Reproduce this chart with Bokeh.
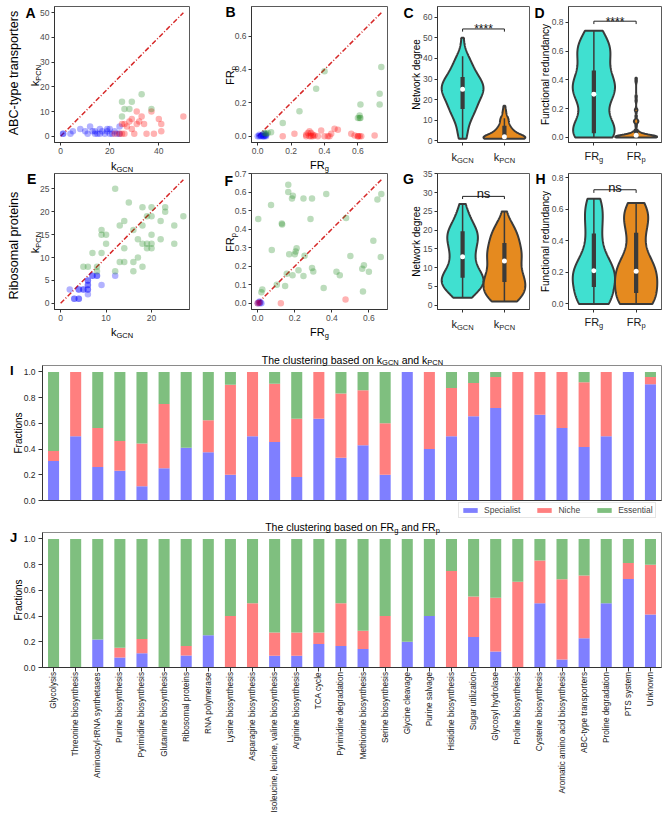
import numpy as np
from math import pi
from bokeh.plotting import figure
from bokeh.models import (Range1d, FixedTicker, PrintfTickFormatter, Label,
                          Legend, LegendItem, GridBox)
from bokeh.layouts import column, row
from bokeh.embed import file_html
from bokeh.resources import INLINE

FONT = "Liberation Sans"

# ---------------- data ----------------
# Panel A: ABC-type transporters, network degree (k_GCN, k_PCN)
abc_k_blue_gcn = [1, 1, 4, 5, 8, 10, 11, 12, 13, 14, 14, 15, 16, 16, 17, 18, 19, 19, 20, 20, 21, 22, 23, 24, 24]
abc_k_blue_pcn = [1, 1, 1, 2, 3, 2, 1, 4, 2, 1, 2, 1, 3, 1, 2, 1, 3, 2, 1, 3, 1, 2, 1, 1, 4]
abc_k_red_gcn = [22, 24, 25, 25, 26, 26, 27, 28, 29, 29, 30, 31, 31, 32, 33, 34, 35, 37, 38, 40, 41, 41, 50]
abc_k_red_pcn = [1, 1, 1, 5, 1, 5, 4, 6, 7, 3, 1, 5, 10, 6, 8, 5, 1, 10, 1, 7, 5, 2, 8]
abc_k_green_gcn = [25, 25, 26, 28, 29, 33, 37]
abc_k_green_pcn = [8, 14, 11, 11, 14, 17, 11]

# Panel B: ABC-type transporters, functional redundancy (FR_g, FR_p)
abc_fr_blue_g = [0.0, 0.01, 0.01, 0.02, 0.02, 0.03, 0.03, 0.04, 0.04, 0.05, 0.05, 0.045, 0.035]
abc_fr_blue_p = [0.0, 0.0, 0.01, 0.0, 0.005, 0.0, 0.01, 0.0, 0.015, 0.0, 0.01, 0.005, 0.0]
abc_fr_red_g = [0.15, 0.22, 0.29, 0.29, 0.30, 0.31, 0.31, 0.32, 0.32, 0.33, 0.33, 0.34, 0.36, 0.38,
                0.40, 0.42, 0.43, 0.44, 0.46, 0.48, 0.56, 0.58, 0.60, 0.60, 0.61, 0.62, 0.70]
abc_fr_red_p = [0.0, 0.015, 0.0, 0.01, 0.02, 0.03, 0.0, 0.0, 0.02, 0.0, 0.01, 0.005, 0.0, 0.035,
                0.0, 0.0, 0.0, 0.015, 0.045, 0.04, 0.015, 0.005, 0.0, 0.0, 0.0, 0.0, 0.005]
abc_fr_green_g = [0.04, 0.05, 0.06, 0.08, 0.15, 0.25, 0.35, 0.40, 0.60, 0.61, 0.61, 0.615, 0.615,
                  0.73, 0.73, 0.74]
abc_fr_green_p = [0.02, 0.015, 0.02, 0.025, 0.08, 0.15, 0.285, 0.39, 0.11, 0.125, 0.11, 0.11, 0.19,
                  0.19, 0.255, 0.415]

# Panel E: Ribosomal proteins, network degree
rib_k_blue_gcn = [2, 3, 3, 4, 4, 4, 5, 5, 6, 6, 6, 6, 6, 6, 7, 7, 8, 8, 9, 12, 4, 6]
rib_k_blue_pcn = [3, 1, 1, 1, 1, 3, 3, 3, 2, 4, 4, 5, 5, 3, 6, 6, 6, 6, 4, 6, 3, 3]
rib_k_green_gcn = [12, 15, 13, 14, 9, 9, 10, 10, 7, 9, 14, 16, 18, 20, 19, 20, 23, 22, 18, 17,
                   19, 20, 20, 19, 18, 20, 22, 13, 14, 16, 17, 16, 18, 12, 5, 6, 8, 8, 25, 27, 25, 23]
rib_k_green_pcn = [25, 22, 17, 18, 16, 15, 15, 13, 11, 11, 12, 16, 21, 21, 19, 19, 20, 18, 17, 14,
                   13, 13, 12, 12, 13, 15, 14, 9, 9, 9, 10, 7, 8, 7, 8, 8, 8, 7, 17, 19, 13, 21]

# Panel F: Ribosomal proteins, functional redundancy
rib_fr_blue_g = [0.0, 0.005, 0.01, 0.01, 0.015, 0.02]
rib_fr_blue_p = [0.0, 0.005, 0.0, 0.01, 0.005, 0.0]
rib_fr_red_g = [0.0, 0.01, 0.125, 0.474]
rib_fr_red_p = [0.0, 0.005, 0.0, 0.02]
rib_fr_green_g = [0.165, 0.165, 0.185, 0.19, 0.247, 0.293, 0.37, 0.072, 0.003, 0.13, 0.132, 0.285,
                  0.076, 0.21, 0.205, 0.20, 0.17, 0.253, 0.103, 0.148, 0.157, 0.188, 0.22, 0.247,
                  0.293, 0.30, 0.356, 0.02, 0.025, 0.667, 0.646, 0.477, 0.624, 0.50, 0.664, 0.573,
                  0.564, 0.60, 0.425, 0.443, 0.568]
rib_fr_green_p = [0.64, 0.60, 0.565, 0.58, 0.565, 0.565, 0.59, 0.53, 0.455, 0.43, 0.425, 0.455,
                  0.287, 0.297, 0.28, 0.265, 0.265, 0.257, 0.10, 0.093, 0.16, 0.151, 0.178, 0.147,
                  0.19, 0.172, 0.082, 0.06, 0.075, 0.59, 0.56, 0.46, 0.337, 0.255, 0.25, 0.206,
                  0.187, 0.17, 0.17, 0.151, 0.064]

# Box statistics of the violins: (lower whisker, Q1, median, Q3, upper whisker)
box_abc_k = [(1, 15.5, 25, 31, 41), (1, 1.5, 2, 7.3, 11)]
box_abc_fr = [(0.0, 0.03, 0.30, 0.465, 0.74), (0.0, 0.0, 0.015, 0.06, 0.085)]
box_rib_k = [(2, 7.3, 12.9, 19.7, 27), (1, 6.2, 11.8, 16.6, 25)]
box_rib_fr = [(0.0, 0.108, 0.211, 0.446, 0.67), (0.0, 0.07, 0.207, 0.452, 0.64)]
sig_abc = "****"
sig_rib = "ns"

# Panels I and J: fractions per functional category
categories = ["Glycolysis", "Threonine biosynthesis", "Aminoacyl-tRNA synthetases",
              "Purine biosynthesis", "Pyrimidine biosynthesis", "Glutamine biosynthesis",
              "Ribosomal proteins", "RNA polymerase", "Lysine biosynthesis",
              "Asparagine biosynthesis", "Isoleucine, leucine, valine biosynthesis",
              "Arginine biosynthesis", "TCA cycle", "Pyrimidine degradation",
              "Methionine biosynthesis", "Serine biosynthesis", "Glycine cleavage",
              "Purine salvage", "Histidine biosynthesis", "Sugar utilization",
              "Glycosyl hydrolase", "Proline biosynthesis", "Cysteine biosynthesis",
              "Aromatic amino acid biosynthesis", "ABC-type transporters",
              "Proline degradation", "PTS system", "Unknown"]
k_specialist = [0.308, 0.500, 0.260, 0.231, 0.111, 0.250, 0.410, 0.375, 0.200, 0.500, 0.455, 0.182,
                0.636, 0.333, 0.429, 0.200, 1.000, 0.400, 0.500, 0.655, 0.720, 0.000, 0.667, 0.563,
                0.416, 0.500, 1.000, 0.904]
k_niche = [0.077, 0.500, 0.304, 0.231, 0.333, 0.500, 0.000, 0.250, 0.700, 0.500, 0.454, 0.454,
           0.364, 0.500, 0.428, 0.400, 0.000, 0.600, 0.375, 0.259, 0.240, 1.000, 0.333, 0.437,
           0.504, 0.500, 0.000, 0.056]
fr_specialist = [0.000, 0.000, 0.217, 0.077, 0.111, 0.000, 0.093, 0.250, 0.000, 0.000, 0.091, 0.091,
                 0.182, 0.167, 0.143, 0.000, 0.200, 0.400, 0.000, 0.237, 0.124, 0.000, 0.500, 0.062,
                 0.227, 0.500, 0.688, 0.413]
fr_niche = [0.000, 0.000, 0.000, 0.077, 0.111, 0.000, 0.074, 0.000, 0.400, 0.500, 0.182, 0.182,
            0.091, 0.333, 0.143, 0.400, 0.000, 0.000, 0.750, 0.315, 0.418, 0.667, 0.333, 0.625,
            0.489, 0.000, 0.125, 0.387]
legend_labels = ["Specialist", "Niche", "Essential"]

# ---------------- styling ----------------
PT_BLUE, PT_RED, PT_GREEN = "#0000ff", "#ff0000", "#228b22"
BAR_BLUE, BAR_RED, BAR_GREEN = "#7f7fff", "#ff7f7f", "#7fbf7f"
BAR_COLORS = (BAR_BLUE, BAR_RED, BAR_GREEN)
TURQ, ORANGE = "#40e0d0", "#e58a1f"
DARK = "#3a3a3a"
PAGE_W, PAGE_H = 662, 812

_up = dict(zip("ABCDEFGHIJKLMNOPQRSTUVWXYZ",
               [667, 667, 722, 722, 667, 611, 778, 722, 278, 500, 667, 556, 833, 722, 778, 667,
                778, 722, 667, 611, 722, 667, 944, 667, 667, 611]))
_lo = dict(zip("abcdefghijklmnopqrstuvwxyz",
               [556, 556, 500, 556, 556, 278, 556, 556, 222, 222, 500, 222, 833, 556, 556, 556,
                556, 333, 500, 278, 556, 500, 722, 500, 500, 500]))
ARIAL = {" ": 278, "*": 389, ",": 278, "-": 333, ".": 278}
ARIAL.update(_up)
ARIAL.update(_lo)


def text_width(s, size):
    return sum(ARIAL.get(c, 556) for c in s) * size / 1000.0


# ---- transparent text layer covering the whole page (page pixel coordinates) ----
ov = figure(width=PAGE_W, height=PAGE_H, x_range=Range1d(0, PAGE_W), y_range=Range1d(0, PAGE_H),
            output_backend="svg", toolbar_location=None, title=None,
            x_axis_location=None, y_axis_location=None,
            min_border_left=0, min_border_right=0, min_border_top=0, min_border_bottom=0)
ov.xgrid.visible = False
ov.ygrid.visible = False
ov.outline_line_color = None
ov.background_fill_color = None
ov.border_fill_color = None
ov.extra_y_ranges = {"proxy": Range1d(2, 3)}


def olabel(rx, ry, text, size, color="#000000", bold=False, align="left",
           baseline="alphabetic", angle=0.0):
    ov.add_layout(Label(x=rx, y=PAGE_H - ry, text=text, text_font=FONT,
                        text_font_size=f"{size}px", text_color=color,
                        text_font_style="bold" if bold else "normal",
                        text_align=align, text_baseline=baseline, angle=angle))


def rich(parts, rx, ry, size, sub_size, angle=0.0, color="#000000"):
    drop = 0.33 * size
    ws = [text_width(t, sub_size if s else size) for t, s in parts]
    total = sum(ws)
    cum = 0.0
    for (t, s), w in zip(parts, ws):
        fs = sub_size if s else size
        lead = len(t) - len(t.lstrip(" "))
        off = text_width(" " * lead, fs)
        txt = t.strip(" ")
        if angle == 0:
            x = rx - total / 2 + cum + off
            y = ry + (drop if s else 0)
        else:
            x = rx + (drop if s else 0)
            y = ry + total / 2 - cum - off
        olabel(x, y, txt, fs, color=color, angle=angle)
        cum += w


def make_panel(gx0, gy0, width, height, left, top, fw, fh, xr, yr, **kw):
    right = width - left - fw
    bottom = height - top - fh
    p = figure(width=width, height=height, x_range=Range1d(*xr), y_range=Range1d(*yr),
               output_backend="svg", toolbar_location=None, title=None,
               min_border_left=left, min_border_right=right,
               min_border_top=top, min_border_bottom=bottom, **kw)
    p.xgrid.visible = False
    p.ygrid.visible = False
    p.outline_line_color = "#5a5a5a"
    p.outline_line_width = 1
    p.background_fill_color = "white"
    p.border_fill_color = "white"
    info = dict(gx=gx0 + left, gy=gy0 + top, fw=fw, fh=fh, xr=xr, yr=yr)
    return p, info


def from_data(info, x, y):
    x0, x1 = info["xr"]
    y0, y1 = info["yr"]
    rx = info["gx"] + (x - x0) / (x1 - x0) * info["fw"]
    ry = info["gy"] + (y1 - y) / (y1 - y0) * info["fh"]
    return rx, ry


def style_axis(ax, ticks, fmt, size=8.5, color="#4d4d4d", tick_out=3, standoff=2):
    ax.ticker = FixedTicker(ticks=ticks)
    ax.formatter = PrintfTickFormatter(format=fmt)
    ax.axis_line_color = "#333333"
    ax.major_tick_line_color = "#333333"
    ax.minor_tick_line_color = None
    ax.major_tick_in = 0
    ax.major_tick_out = tick_out
    ax.major_label_standoff = standoff
    ax.major_label_text_font = FONT
    ax.major_label_text_font_size = f"{size}px"
    ax.major_label_text_color = color
    ax.axis_label = None


# (canvas x, canvas width, left border, frame width)
COLS = [(0, 205, 54, 135), (205, 195, 46, 136), (400, 132, 37, 92), (532, 130, 36, 93)]
# (canvas y, canvas height, top border)
ROWS = [(0, 169, 6), (169, 171, 4)]
FH = 136


def scatter_panel(ci, ri, groups, xticks, yticks, fmt, letter, letter_pos, xlab, ylab, xlab_y):
    gx0, w, left, fw = COLS[ci]
    gy0, h, top = ROWS[ri]
    allv = np.concatenate([np.concatenate([np.asarray(a, float), np.asarray(b, float)])
                           for a, b, _ in groups])
    lo, hi = 0.0, float(allv.max())
    pad = 0.05 * (hi - lo)
    rng = (lo - pad, hi + pad)
    p, info = make_panel(gx0, gy0, w, h, left, top, fw, FH, rng, rng)
    p.line([lo, hi], [lo, hi], line_color="#d62828", line_width=1.5, line_dash="5 2 1 2")
    for xs, ys, c in groups:
        p.scatter(xs, ys, size=6.5, fill_color=c, fill_alpha=0.3, line_color=None)
    style_axis(p.xaxis[0], xticks, fmt)
    style_axis(p.yaxis[0], yticks, fmt)
    olabel(letter_pos[0], letter_pos[1], letter, 14, bold=True)
    cx = info["gx"] + info["fw"] / 2
    cy = info["gy"] + info["fh"] / 2
    rich(xlab, cx, xlab_y, 11, 7.5)
    ybx = 34 if ci == 0 else 229
    rich(ylab, ybx, cy + 1, 11, 7.5, angle=pi / 2)
    return p, info


def violin_profile(vals, n=160):
    v = np.asarray(vals, float)
    sd = v.std(ddof=1)
    q75, q25 = np.percentile(v, [75, 25])
    iqr = q75 - q25
    base = min(sd, iqr / 1.34) if iqr > 0 else sd
    bw = 0.9 * base * len(v) ** -0.2
    grid = np.linspace(v.min(), v.max(), n)
    dens = np.exp(-0.5 * ((grid[:, None] - v[None, :]) / bw) ** 2).sum(axis=1)
    return grid, 0.5 * dens / dens.max()


def violin_panel(ci, ri, series, stats, yr, yticks, fmt, letter, letter_pos, ytitle,
                 cat_parts, cat_base, sig, sig_size, bracket_y, tip):
    gx0, w, left, fw = COLS[ci]
    gy0, h, top = ROWS[ri]
    p, info = make_panel(gx0, gy0, w, h, left, top, fw, FH, (0.4, 2.6), yr)
    for i, (vals, color) in enumerate(series):
        pos = i + 1
        grid, half = violin_profile(vals)
        xs = np.concatenate([pos - half, (pos + half)[::-1]])
        ys = np.concatenate([grid, grid[::-1]])
        p.patch(xs, ys, fill_color=color, line_color=DARK, line_width=2)
        lo, q1, med, q3, hi = stats[i]
        p.segment(x0=[pos], y0=[lo], x1=[pos], y1=[hi], line_color=DARK, line_width=1.5)
        p.vbar(x=[pos], width=0.1, bottom=[q1], top=[q3], fill_color=DARK, line_color=None)
        p.scatter([pos], [med], size=5, fill_color="white", line_color=None)
    p.line([1, 1, 2, 2], [bracket_y - tip, bracket_y, bracket_y, bracket_y - tip],
           line_color="#222222", line_width=1)
    style_axis(p.xaxis[0], [1, 2], "")
    style_axis(p.yaxis[0], yticks, fmt)
    olabel(letter_pos[0], letter_pos[1], letter, 14, bold=True)
    cy = info["gy"] + info["fh"] / 2
    ylx = 416 if ci == 2 else 545
    olabel(ylx, cy, ytitle, 10, align="center", baseline="middle", angle=pi / 2)
    for i, parts in enumerate(cat_parts):
        rx, _ = from_data(info, i + 1, 0)
        rich(parts, rx, cat_base, 11, 7.5, color="#1a1a1a")
    sx, sy = from_data(info, 1.5, bracket_y)
    shift = 0.5 if sig == "****" else -2.5
    olabel(sx, sy + shift, sig, sig_size, color="#111111", align="center")
    return p


# ---------- Row 1 ----------
pA, infoA = scatter_panel(
    0, 0,
    [(abc_k_blue_gcn, abc_k_blue_pcn, PT_BLUE), (abc_k_red_gcn, abc_k_red_pcn, PT_RED),
     (abc_k_green_gcn, abc_k_green_pcn, PT_GREEN)],
    [0, 20, 40], [0, 10, 20, 30, 40, 50], "%d", "A", (25, 12),
    [("k", False), ("GCN", True)], [("k", False), ("PCN", True)], 165)
olabel(13, 72.5, "ABC-type transporters", 12.6, align="center", angle=pi / 2)

pB, _ = scatter_panel(
    1, 0,
    [(abc_fr_blue_g, abc_fr_blue_p, PT_BLUE), (abc_fr_red_g, abc_fr_red_p, PT_RED),
     (abc_fr_green_g, abc_fr_green_p, PT_GREEN)],
    [0, 0.2, 0.4, 0.6], [0, 0.2, 0.4, 0.6], "%.1f", "B", (225, 11),
    [("FR", False), ("g", True)], [("FR", False), ("p", True)], 164.6)

abc_gcn_all = abc_k_blue_gcn + abc_k_red_gcn + abc_k_green_gcn
abc_pcn_all = abc_k_blue_pcn + abc_k_red_pcn + abc_k_green_pcn
pC = violin_panel(2, 0, [(abc_gcn_all, TURQ), (abc_pcn_all, ORANGE)], box_abc_k,
                  (-0.8, 65.2), [0, 10, 20, 30, 40, 50, 60], "%d", "C", (403, 12),
                  "Network degree", [[("k", False), ("GCN", True)], [("k", False), ("PCN", True)]],
                  156, sig_abc, 12, 54.3, 1.3)

abc_g_all = abc_fr_blue_g + abc_fr_red_g + abc_fr_green_g
abc_p_all = abc_fr_blue_p + abc_fr_red_p + abc_fr_green_p
pD = violin_panel(3, 0, [(abc_g_all, TURQ), (abc_p_all, ORANGE)], box_abc_fr,
                  (-0.035, 0.909), [0, 0.2, 0.4, 0.6, 0.8], "%.1f", "D", (534, 12),
                  "Functional redundancy", [[("FR", False), ("g", True)], [("FR", False), ("p", True)]],
                  155, sig_abc, 12, 0.807, 0.02)

# ---------- Row 2 ----------
pE, infoE = scatter_panel(
    0, 1,
    [(rib_k_blue_gcn, rib_k_blue_pcn, PT_BLUE), (rib_k_green_gcn, rib_k_green_pcn, PT_GREEN)],
    [0, 10, 20], [0, 5, 10, 15, 20, 25], "%d", "E", (26.5, 178.5),
    [("k", False), ("GCN", True)], [("k", False), ("PCN", True)], 331.6)
olabel(13, 245, "Ribosomal proteins", 12.6, align="center", angle=pi / 2)

pF, _ = scatter_panel(
    1, 1,
    [(rib_fr_blue_g, rib_fr_blue_p, PT_BLUE), (rib_fr_red_g, rib_fr_red_p, PT_RED),
     (rib_fr_green_g, rib_fr_green_p, PT_GREEN)],
    [0, 0.2, 0.4, 0.6], [0, 0.1, 0.2, 0.3, 0.4, 0.5, 0.6, 0.7], "%.1f", "F", (224, 180),
    [("FR", False), ("g", True)], [("FR", False), ("p", True)], 331)

rib_gcn_all = rib_k_blue_gcn + rib_k_green_gcn
rib_pcn_all = rib_k_blue_pcn + rib_k_green_pcn
pG = violin_panel(2, 1, [(rib_gcn_all, TURQ), (rib_pcn_all, ORANGE)], box_rib_k,
                  (-1.15, 35.1), [0, 5, 10, 15, 20, 25, 30, 35], "%d", "G", (402.5, 178.5),
                  "Network degree", [[("k", False), ("GCN", True)], [("k", False), ("PCN", True)]],
                  323, sig_rib, 13, 29.0, 0.7)

rib_g_all = rib_fr_blue_g + rib_fr_red_g + rib_fr_green_g
rib_p_all = rib_fr_blue_p + rib_fr_red_p + rib_fr_green_p
pH = violin_panel(3, 1, [(rib_g_all, TURQ), (rib_p_all, ORANGE)], box_rib_fr,
                  (-0.035, 0.827), [0, 0.2, 0.4, 0.6, 0.8], "%.1f", "H", (535, 178.5),
                  "Functional redundancy", [[("FR", False), ("g", True)], [("FR", False), ("p", True)]],
                  321, sig_rib, 13, 0.724, 0.02)


# ---------- Panels I and J ----------
def stack_bounds(spec, niche):
    s = np.asarray(spec, float)
    n = np.asarray(niche, float)
    e = np.clip(1.0 - s - n, 0, None)
    return [(np.zeros_like(s), s), (s, s + n), (s + n, s + n + e)]


def bar_panel(gy0, h, top, spec, niche, letter, letter_y, title_parts, title_y, show_cats):
    p, info = make_panel(0, gy0, PAGE_W, h, 42, top, 619, 135, (-0.5, 27.5), (0, 1.05))
    p.outline_line_color = "#8a8a8a"
    idx = np.arange(len(categories))
    for (b, t), c in zip(stack_bounds(spec, niche), BAR_COLORS):
        p.vbar(x=idx, width=0.5, bottom=b, top=t, fill_color=c, line_color=None)
    style_axis(p.yaxis[0], [0, 0.2, 0.4, 0.6, 0.8, 1.0], "%.1f", size=8.5, color="#262626",
               tick_out=4, standoff=3)
    style_axis(p.xaxis[0], list(range(len(categories))), "", tick_out=4 if show_cats else 0)
    if not show_cats:
        p.xaxis[0].major_tick_line_color = None
    olabel(9.5, letter_y, letter, 13, bold=True)
    cy = info["gy"] + info["fh"] / 2
    olabel(17.5, cy, "Fractions", 10, align="center", baseline="middle", angle=pi / 2)
    rich(title_parts, 352, title_y, 10.5, 7.5)
    if show_cats:
        for i, name in enumerate(categories):
            rx, _ = from_data(info, i, 0)
            olabel(rx, 671.5, name, 8.2, color="#1a1a1a", align="right",
                   baseline="middle", angle=pi / 2)
    return p, info


pI, infoI = bar_panel(340, 180, 25, k_specialist, k_niche, "I", 369.5,
                      [("The clustering based on k", False), ("GCN", True),
                       (" and k", False), ("PCN", True)], 359, False)
pJ, infoJ = bar_panel(520, 292, 12, fr_specialist, fr_niche, "J", 537,
                      [("The clustering based on FR", False), ("g", True),
                       (" and FR", False), ("p", True)], 526.5, True)

# legend of panel I, drawn on the text layer; its swatches come from the panel-I bars,
# plotted against a range that keeps them out of view
idx_all = np.arange(len(categories))
leg_rends = [ov.vbar(x=idx_all, width=0.5, bottom=b, top=t, fill_color=c, line_color=None,
                     y_range_name="proxy")
             for (b, t), c in zip(stack_bounds(k_specialist, k_niche), BAR_COLORS)]
legend = Legend(items=[LegendItem(label=lab, renderers=[r]) for lab, r in zip(legend_labels, leg_rends)],
                location=(458, PAGE_H - 518), orientation="horizontal")
legend.label_text_font = FONT
legend.label_text_font_size = "8.5px"
legend.glyph_width = 18
legend.glyph_height = 6
legend.label_height = 9
legend.label_standoff = 5
legend.spacing = 15
legend.padding = 2
legend.margin = 0
legend.border_line_color = "#cccccc"
legend.border_line_width = 1
legend.background_fill_color = "white"
legend.background_fill_alpha = 0.85
ov.add_layout(legend)

main = column(row(pA, pB, pC, pD), row(pE, pF, pG, pH), pI, pJ)
layout = GridBox(children=[(main, 0, 0), (ov, 0, 0)])

open("out.html", "w").write(file_html(layout, INLINE))
